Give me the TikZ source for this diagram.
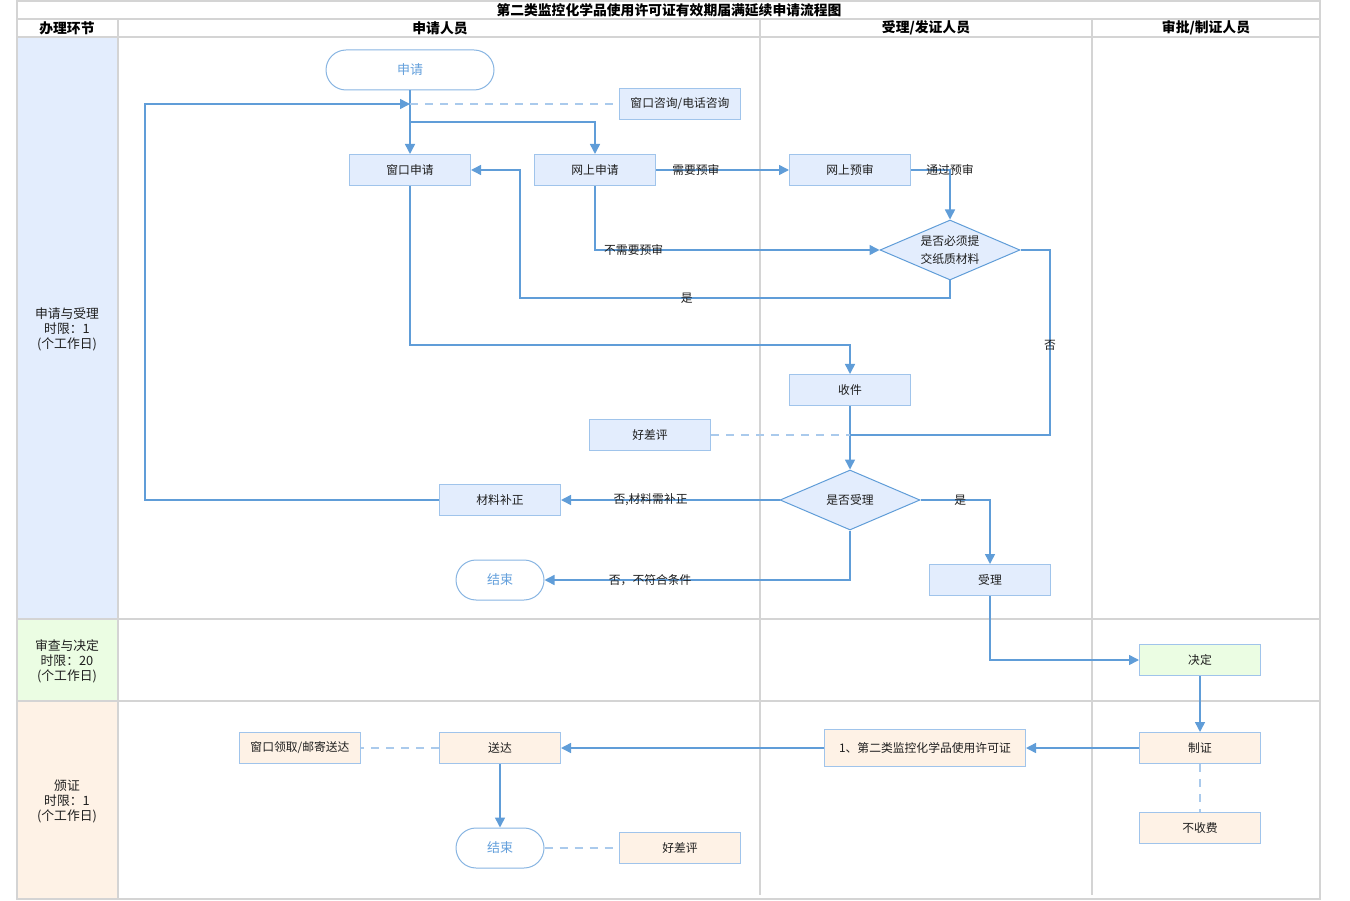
\documentclass[tikz,border=0pt]{standalone}
\usepackage{fontspec}
\setmainfont{Noto Sans CJK SC}
\usetikzlibrary{arrows.meta,shapes.geometric,calc}
\definecolor{grid}{RGB}{212,212,212}
\definecolor{bfill}{RGB}{227,237,253}
\definecolor{gfill}{RGB}{235,253,227}
\definecolor{ofill}{RGB}{254,242,230}
\definecolor{bline}{RGB}{160,196,235}
\definecolor{flow}{RGB}{96,157,216}
\definecolor{dline}{RGB}{170,202,236}
\definecolor{ttext}{RGB}{100,160,220}
\definecolor{txt}{RGB}{30,30,30}
\tikzset{
 proc/.style={draw=bline, line width=1pt, fill=bfill, minimum width=121pt, minimum height=31pt, inner sep=0pt, font=\fontsize{11.8}{13}\selectfont, text=txt},
 term/.style={draw=flow!75, line width=1pt, fill=white, rounded corners=20pt, minimum width=88pt, minimum height=40pt, inner sep=0pt, font=\fontsize{13}{15}\selectfont, text=ttext},
 dec/.style={diamond, draw=flow, line width=1pt, fill=bfill, minimum width=140pt, minimum height=60pt, inner sep=0pt, aspect=2.333, font=\fontsize{11.8}{18}\selectfont, align=center, text=txt},
 flowline/.style={draw=flow, line width=1.5pt, -{Triangle[length=10pt,width=10pt]}},
 plainline/.style={draw=flow, line width=1.5pt},
 dsh/.style={draw=dline, line width=1.5pt, dash pattern=on 8pt off 7pt},
 lbl/.style={font=\fontsize{11.8}{13}\selectfont, text=txt, inner sep=0pt},
 gridline/.style={draw=grid, line width=2pt},
 hdr/.style={font=\bfseries\fontsize{13.8}{15}\selectfont, text=black},
 lane/.style={font=\fontsize{12.8}{15}\selectfont, align=center, text=txt},
}
\begin{document}
\begin{tikzpicture}[x=1pt,y=-1pt]
\useasboundingbox (0,0) rectangle (1350,901);
% lane fills
\fill[bfill] (18,38) rectangle (117,618);
\fill[gfill] (18,620) rectangle (117,700);
\fill[ofill] (18,702) rectangle (117,898);
% grid
\draw[gridline] (17,1) rectangle (1320,899);
\draw[gridline] (17,19) -- (1320,19);
\draw[gridline] (17,37) -- (1320,37);
\draw[gridline] (17,619) -- (1320,619);
\draw[gridline] (17,701) -- (1320,701);
\draw[gridline] (118,19) -- (118,899);
\draw[gridline] (760,19) -- (760,895);
\draw[gridline] (1092,19) -- (1092,895);
% headers
\node[hdr] (title) at (669,10) {第二类监控化学品使用许可证有效期届满延续申请流程图};
\node[hdr] (h0) at (67,28) {办理环节};
\node[hdr] (h1) at (440,28) {申请人员};
\node[hdr] (h2) at (926,28) {受理/发证人员};
\node[hdr] (h3) at (1206,28) {审批/制证人员};
\node[lane] (l1) at (67,329) {申请与受理\\时限：1\\(个工作日)};
\node[lane] (l2) at (67,661) {审查与决定\\时限：20\\(个工作日)};
\node[lane] (l3) at (67,801) {颁证\\时限：1\\(个工作日)};
% nodes
\node[term, minimum width=168pt] (sq) at (410,70) {申请};
\node[proc] (zx) at (680,104) {窗口咨询/电话咨询};
\node[proc] (wck) at (410,170) {窗口申请};
\node[proc] (wsq) at (595,170) {网上申请};
\node[proc] (wys) at (850,170) {网上预审};
\node[dec] (d1) at (950,250) {是否必须提\\交纸质材料};
\node[proc] (sj) at (850,390) {收件};
\node[proc] (hcp1) at (650,435) {好差评};
\node[dec] (d2) at (850,500) {是否受理};
\node[proc] (cl) at (500,500) {材料补正};
\node[term] (end1) at (500,580) {结束};
\node[proc] (sl) at (990,580) {受理};
\node[proc, fill=gfill] (jd) at (1200,660) {决定};
\node[proc, fill=ofill] (zz) at (1200,748) {制证};
\node[proc, fill=ofill] (bsf) at (1200,828) {不收费};
\node[proc, fill=ofill, minimum width=201pt, minimum height=37pt] (cert) at (925,748) {1、第二类监控化学品使用许可证};
\node[proc, fill=ofill] (sd) at (500,748) {送达};
\node[proc, fill=ofill] (lq) at (300,748) {窗口领取/邮寄送达};
\node[term] (end2) at (500,848) {结束};
\node[proc, fill=ofill] (hcp2) at (680,848) {好差评};
% helper coordinates
\coordinate (jn) at (410,104);
\coordinate (br) at (410,122);
\coordinate (lp) at (145,500);
\coordinate (c1) at (520,298);
\coordinate (c2) at (850,345);
\coordinate (c3) at (1050,435);
\coordinate (c4) at (850,435);
% connectors
\draw[flowline] (sq.south) -- (wck.north);
\draw[flowline] (br) -| (wsq.north);
\draw[dsh] (jn) -- (zx.west);
\draw[flowline] (cl.west) -- (lp) |- (jn);
\draw[flowline] (wsq.east) -- node[lbl, pos=0.3] (t1) {需要预审} (wys.west);
\draw[flowline] (wys.east) -| node[lbl, pos=0.5] (t2) {通过预审} (d1.north);
\draw[flowline] (wsq.south) |- node[lbl, pos=0.568] (t3) {不需要预审} (d1.west);
\draw[flowline] (d1.south) |- node[lbl, pos=0.806] (t4) {是} (c1) |- (wck.east);
\draw[plainline] (d1.east) -| node[lbl, pos=0.757] (t5) {否} (c3) -- (c4);
\draw[flowline] (wck.south) |- (c2) -- (sj.north);
\draw[flowline] (sj.south) -- (d2.north);
\draw[dsh] (hcp1.east) -- (c4);
\draw[flowline] (d2.west) -- node[lbl, pos=0.59] (t6) {否,材料需补正} (cl.east);
\draw[flowline] (d2.south) |- node[lbl, pos=0.827] (t7) {否，不符合条件} (end1.east);
\draw[flowline] (d2.east) -| node[lbl, pos=0.286] (t8) {是} (sl.north);
\draw[flowline] (sl.south) |- (jd.west);
\draw[flowline] (jd.south) -- (zz.north);
\draw[dsh] (zz.south) -- (bsf.north);
\draw[flowline] (zz.west) -- (cert.east);
\draw[flowline] (cert.west) -- (sd.east);
\draw[dsh] (sd.west) -- (lq.east);
\draw[flowline] (sd.south) -- (end2.north);
\draw[dsh] (end2.east) -- (hcp2.west);
\end{tikzpicture}
\end{document}
